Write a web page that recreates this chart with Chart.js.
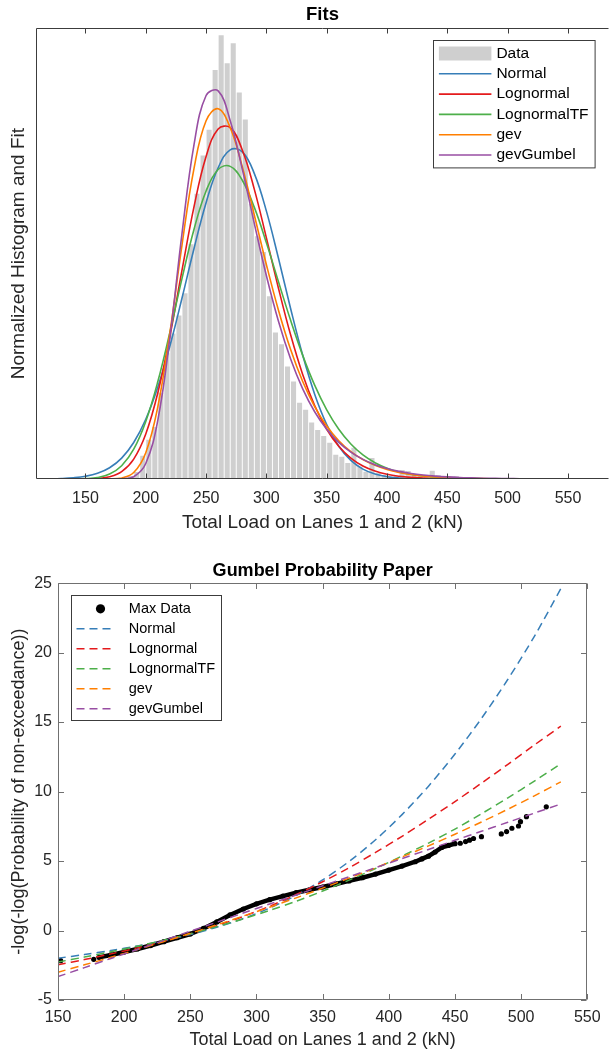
<!DOCTYPE html>
<html>
<head>
<meta charset="utf-8">
<title>Fits</title>
<script src="https://cdn.jsdelivr.net/npm/chart.js@4.4.1/dist/chart.umd.min.js"></script>
<style>
  html, body { margin: 0; padding: 0; background: #fff; overflow: hidden; }
  #wrap { position: relative; width: 609px; height: 1052px; }
  canvas { position: absolute; left: 0; }
  #fits { top: 0; }
  #gumbel { top: 540px; }
</style>
</head>
<body>
<div id="wrap">
  <canvas id="fits" width="609" height="540"></canvas>
  <canvas id="gumbel" width="609" height="512"></canvas>
</div>
<script>
// ---- histogram of total load, 5 kN bins (density, x1e-3 per kN) ----
const binCenters = [182.5, 187.5, 192.5, 197.5, 202.5, 207.5, 212.5, 217.5, 222.5, 227.5,
  232.5, 237.5, 242.5, 247.5, 252.5, 257.5, 262.5, 267.5, 272.5, 277.5,
  282.5, 287.5, 292.5, 297.5, 302.5, 307.5, 312.5, 317.5, 322.5, 327.5,
  332.5, 337.5, 342.5, 347.5, 352.5, 357.5, 362.5, 367.5, 372.5, 377.5,
  382.5, 387.5, 392.5, 397.5, 402.5, 407.5, 412.5, 417.5, 422.5, 427.5,
  432.5, 437.5, 442.5, 447.5, 452.5, 457.5, 462.5, 467.5];
const binDensity = [0.03, 0.09, 0.21, 0.70, 1.18, 1.57, 2.60, 3.81, 4.39, 4.93,
  5.60, 7.08, 8.60, 9.75, 10.53, 12.33, 13.38, 12.53, 13.14, 11.65,
  10.84, 8.29, 7.32, 6.84, 5.51, 4.42, 4.06, 3.39, 2.94, 2.30,
  2.09, 1.70, 1.48, 1.30, 1.09, 0.73, 0.67, 0.48, 0.94, 0.37,
  0.22, 0.63, 0.18, 0.12, 0.09, 0.09, 0.27, 0.24, 0.12, 0.09,
  0.12, 0.25, 0.12, 0.06, 0.06, 0.08, 0.06, 0.03];

// fitted densities, sampled every 10 kN
const fitX = [110, 120, 130, 140, 150, 160, 170, 180, 190, 200, 210, 220, 230, 240, 250, 260,
  270, 280, 290, 300, 310, 320, 330, 340, 350, 360, 370, 380, 390, 400, 410, 420,
  430, 440, 450, 460, 470, 480, 490, 500, 510, 520, 530, 540, 550, 560, 570, 580];
const normalPdf = [0.002, 0.006, 0.015, 0.037, 0.082, 0.172, 0.340, 0.630, 1.100, 1.802, 2.773, 4.010, 5.447, 6.950, 8.331, 9.382,
  9.924, 9.862, 9.207, 8.075, 6.653, 5.149, 3.743, 2.557, 1.641, 0.989, 0.560, 0.298, 0.149, 0.070, 0.031, 0.013,
  0.005, 0.002, 0.001, 0, 0, 0, 0, 0, 0, 0, 0, 0, 0, 0, 0, 0];
const lognormalPdf = [0, 0, 0, 0.0003, 0.0025, 0.015, 0.065, 0.221, 0.601, 1.358, 2.600, 4.304, 6.287, 8.210, 9.725, 10.55,
  10.59, 9.917, 8.730, 7.266, 5.752, 4.354, 3.161, 2.215, 1.499, 0.984, 0.629, 0.391, 0.239, 0.142, 0.083, 0.048,
  0.027, 0.015, 0.008, 0.005, 0.002, 0.001, 0.001, 0, 0, 0, 0, 0, 0, 0, 0, 0];
const lognormalTfPdf = [0, 0, 0.0002, 0.002, 0.011, 0.045, 0.149, 0.400, 0.899, 1.735, 2.937, 4.429, 6.042, 7.530, 8.682, 9.331,
  9.425, 9.006, 8.188, 7.119, 5.946, 4.791, 3.735, 2.828, 2.084, 1.498, 1.054, 0.726, 0.492, 0.327, 0.214, 0.139,
  0.089, 0.056, 0.035, 0.022, 0.013, 0.008, 0.005, 0.003, 0.002, 0.001, 0.001, 0, 0, 0, 0, 0];
const gevPdf = [0, 0, 0, 0, 0, 0, 0.002, 0.029, 0.195, 0.794, 2.181, 4.412, 7.046, 9.365, 10.80, 11.16,
  10.59, 9.414, 7.953, 6.461, 5.088, 3.909, 2.946, 2.184, 1.598, 1.155, 0.827, 0.586, 0.412, 0.287, 0.198, 0.136,
  0.093, 0.063, 0.042, 0.028, 0.018, 0.012, 0.008, 0.005, 0.003, 0.002, 0.001, 0.001, 0, 0, 0, 0];
const gumbelPdf = [0, 0, 0, 0, 0, 0, 0.0001, 0.004, 0.067, 0.469, 1.776, 4.266, 7.391, 10.08, 11.56, 11.70,
  10.80, 9.343, 7.699, 6.128, 4.756, 3.625, 2.725, 2.028, 1.500, 1.104, 0.809, 0.591, 0.431, 0.314, 0.229, 0.166,
  0.121, 0.088, 0.064, 0.046, 0.034, 0.024, 0.018, 0.013, 0.009, 0.007, 0.005, 0.004, 0.003, 0.002, 0.001, 0.001];
const loadTicks = [150, 200, 250, 300, 350, 400, 450, 500, 550];

// ---- Gumbel probability paper: -log(-log(F)) of each fit ----
const paperX = [150, 170, 190, 210, 230, 250, 270, 290, 310, 330, 350, 370, 390, 410, 430, 450, 470, 490, 510, 530];
const normalG = [-1.99, -1.73, -1.44, -1.11, -0.73, -0.29, 0.24, 0.86, 1.62, 2.53, 3.64, 4.97, 6.53, 8.34, 10.39, 12.70, 15.26, 18.08, 21.17, 24.6];
const lognormalG = [-2.47, -2.09, -1.68, -1.25, -0.77, -0.24, 0.35, 1.01, 1.75, 2.59, 3.51, 4.52, 5.62, 6.78, 8.01, 9.28, 10.60, 11.96, 13.35, 14.7];
const lognormalTfG = [-2.27, -1.91, -1.53, -1.13, -0.69, -0.23, 0.28, 0.84, 1.45, 2.11, 2.84, 3.63, 4.46, 5.36, 6.29, 7.30, 8.40, 9.55, 10.75, 12.0];
const gevG = [-3.00, -2.47, -1.93, -1.37, -0.80, -0.20, 0.41, 1.04, 1.68, 2.35, 3.05, 3.77, 4.51, 5.29, 6.09, 6.93, 7.81, 8.73, 9.69, 10.70];
const gumbelG = [-3.32, -2.67, -2.01, -1.36, -0.71, -0.05, 0.60, 1.26, 1.91, 2.56, 3.22, 3.87, 4.52, 5.18, 5.83, 6.49, 7.14, 7.79, 8.45, 9.10];
const maxDataX = [152, 177, 181, 190, 200, 210, 220, 230, 240, 250, 260, 270, 280, 290, 300, 310, 320, 330, 340, 350,
  360, 370, 380, 390, 400, 410, 420, 425, 430, 435, 440, 445, 450, 454, 458, 461, 464, 470, 485, 489,
  493, 498, 499.5, 504, 519];
const maxDataY = [-2.17, -2.07, -1.93, -1.76, -1.55, -1.33, -1.08, -0.80, -0.52, -0.25, 0.15, 0.62, 1.12, 1.55, 1.92, 2.22, 2.48, 2.72, 2.93, 3.13,
  3.35, 3.57, 3.80, 4.06, 4.35, 4.64, 4.95, 5.15, 5.35, 5.65, 5.98, 6.12, 6.25, 6.28, 6.40, 6.50, 6.62, 6.75, 6.95, 7.12,
  7.36, 7.52, 7.83, 8.19, 8.90];
const paperXTicks = [150, 200, 250, 300, 350, 400, 450, 500, 550];
const paperYTicks = [-5, 0, 5, 10, 15, 20, 25];

const fitNames = ['Normal', 'Lognormal', 'LognormalTF', 'gev', 'gevGumbel'];
const fitColors = ['#377eb8', '#e41a1c', '#4daf4a', '#ff7f00', '#984ea3'];

Chart.defaults.font.family = '"Liberation Sans", Arial, Helvetica, sans-serif';
Chart.defaults.color = '#262626';

const pts = (xs, ys) => xs.map((x, i) => ({ x, y: ys[i] }));

// axes box with inward tick marks
const frame = {
  id: 'frame',
  afterDatasetsDraw(chart, args, opts) {
    const { ctx, chartArea: a, scales: { x, y } } = chart;
    const L = Math.round(a.left) + 0.5;
    const R = Math.round(a.right) - 0.5;
    const T = Math.round(a.top) + 0.5;
    const B = Math.round(a.bottom) - 0.5;
    ctx.save();
    ctx.strokeStyle = opts.color;
    ctx.lineWidth = 1;
    ctx.beginPath();
    ctx.moveTo(R, T); ctx.lineTo(L, T); ctx.lineTo(L, B); ctx.lineTo(R, B);
    if (opts.right) ctx.lineTo(R, T);
    for (const t of x.ticks) {
      const p = Math.round(x.getPixelForValue(t.value)) + 0.5;
      ctx.moveTo(p, B); ctx.lineTo(p, B - opts.tick);
      ctx.moveTo(p, T); ctx.lineTo(p, T + opts.tick);
    }
    if (opts.yTicks) {
      for (const t of y.ticks) {
        const p = Math.round(y.getPixelForValue(t.value)) + 0.5;
        ctx.moveTo(L, p); ctx.lineTo(L + opts.tick, p);
        ctx.moveTo(R, p); ctx.lineTo(R - opts.tick, p);
      }
    }
    ctx.stroke();
    ctx.restore();
  }
};

// boxed legend placed inside the plot area
const boxLegend = {
  id: 'boxLegend',
  afterDraw(chart, args, o) {
    const { ctx, chartArea: a } = chart;
    const bx = Math.round(a.left + o.left) + 0.5;
    const by = Math.round(a.top + o.top) + 0.5;
    ctx.save();
    ctx.fillStyle = '#fff';
    ctx.fillRect(bx, by, o.width, o.height);
    ctx.strokeStyle = o.border;
    ctx.lineWidth = 1;
    ctx.strokeRect(bx, by, o.width, o.height);
    ctx.font = o.labelFont;
    ctx.textBaseline = 'middle';
    ctx.textAlign = 'left';
    chart.data.datasets.forEach((ds, i) => {
      const cy = by + o.first + i * o.step;
      const x0 = bx + o.sampleFrom;
      const x1 = bx + o.sampleTo;
      if (ds.type === 'bar') {
        ctx.fillStyle = ds.backgroundColor;
        ctx.fillRect(x0, cy - o.patch / 2, x1 - x0, o.patch);
      } else if (ds.type === 'scatter') {
        ctx.fillStyle = ds.backgroundColor;
        ctx.beginPath();
        ctx.arc(bx + o.dotX, cy, o.dotR, 0, Math.PI * 2);
        ctx.fill();
      } else {
        ctx.strokeStyle = ds.borderColor;
        ctx.lineWidth = ds.borderWidth;
        ctx.setLineDash(ds.borderDash || []);
        ctx.beginPath();
        ctx.moveTo(x0, cy);
        ctx.lineTo(x1, cy);
        ctx.stroke();
        ctx.setLineDash([]);
      }
      ctx.fillStyle = '#000';
      ctx.fillText(ds.label, bx + o.text, cy);
    });
    ctx.restore();
  }
};

const topFits = [normalPdf, lognormalPdf, lognormalTfPdf, gevPdf, gumbelPdf];
const paperFits = [normalG, lognormalG, lognormalTfG, gevG, gumbelG];

new Chart(document.getElementById('fits'), {
  type: 'line',
  data: {
    datasets: [
      {
        type: 'bar',
        label: 'Data',
        data: pts(binCenters, binDensity),
        backgroundColor: '#cfcfcf',
        barPercentage: 0.84,
        categoryPercentage: 1,
        order: 6
      },
      ...fitNames.map((name, i) => ({
        label: name,
        data: pts(fitX, topFits[i]),
        borderColor: fitColors[i],
        borderWidth: 1.6,
        pointRadius: 0,
        tension: 0.4,
        order: 5 - i
      }))
    ]
  },
  options: {
    responsive: false,
    animation: false,
    events: [],
    layout: { padding: 0 },
    plugins: {
      legend: { display: false },
      tooltip: { enabled: false },
      title: {
        display: true, text: 'Fits', color: '#000', fullSize: false,
        font: { size: 18.5, weight: 'bold' }, padding: { top: 4, bottom: 2 }
      },
      frame: { color: '#3c3c3c', tick: 5, yTicks: false, right: false },
      boxLegend: {
        left: 397.4, top: 11.3, width: 161.6, height: 127.4, first: 13, step: 20.3,
        sampleFrom: 5.4, sampleTo: 57.9, text: 62.9, patch: 14, border: '#3c3c3c',
        labelFont: '15.5px "Liberation Sans", Arial, sans-serif'
      }
    },
    scales: {
      x: {
        type: 'linear', min: 109, max: 584, offset: false,
        grid: { display: false, drawTicks: false }, border: { display: false },
        afterBuildTicks: s => { s.ticks = loadTicks.map(v => ({ value: v })); },
        afterFit: s => { s.height = 61; },
        ticks: { font: { size: 16 }, padding: 10.4, maxRotation: 0, autoSkip: false },
        title: { display: true, text: 'Total Load on Lanes 1 and 2 (kN)', font: { size: 19 }, padding: { top: 0, bottom: 6.3 } }
      },
      y: {
        min: 0, max: 13.59,
        grid: { display: false, drawTicks: false }, border: { display: false },
        ticks: { display: false },
        afterFit: s => { s.width = 36; },
        title: { display: true, text: 'Normalized Histogram and Fit', font: { size: 19 }, padding: { top: 7.6, bottom: 0 } }
      }
    }
  },
  plugins: [frame, boxLegend]
});

new Chart(document.getElementById('gumbel'), {
  type: 'line',
  data: {
    datasets: [
      {
        type: 'scatter',
        label: 'Max Data',
        data: pts(maxDataX, maxDataY),
        showLine: true,
        borderColor: '#000',
        backgroundColor: '#000',
        borderWidth: 4.5,
        borderCapStyle: 'round',
        borderJoinStyle: 'round',
        pointRadius: 2.6,
        pointBorderWidth: 0,
        // the dense part of the sample reads as a solid band
        segment: {
          borderColor: c => (c.p0.parsed.x >= 180 && c.p1.parsed.x <= 450) ? '#000' : 'rgba(0,0,0,0)'
        },
        order: 6
      },
      ...fitNames.map((name, i) => ({
        label: name,
        data: pts(paperX, paperFits[i]),
        borderColor: fitColors[i],
        borderWidth: 1.5,
        borderDash: [8, 5],
        pointRadius: 0,
        tension: 0.3,
        order: 5 - i
      }))
    ]
  },
  options: {
    responsive: false,
    animation: false,
    events: [],
    layout: { padding: { right: 21.7 } },
    plugins: {
      legend: { display: false },
      tooltip: { enabled: false },
      title: {
        display: true, text: 'Gumbel Probability Paper', color: '#000', fullSize: false,
        font: { size: 18, weight: 'bold' }, padding: { top: 20.5, bottom: 1 }
      },
      frame: { color: '#707070', tick: 5.5, yTicks: true, right: true },
      boxLegend: {
        left: 13, top: 12, width: 150, height: 125, first: 13.3, step: 20,
        sampleFrom: 5, sampleTo: 44, dotX: 29, dotR: 4.6, text: 57.3, border: '#3c3c3c',
        labelFont: '14.5px "Liberation Sans", Arial, sans-serif'
      }
    },
    scales: {
      x: {
        type: 'linear', min: 150, max: 550, offset: false,
        grid: { display: false, drawTicks: false }, border: { display: false },
        afterBuildTicks: s => { s.ticks = paperXTicks.map(v => ({ value: v })); },
        afterFit: s => { s.height = 52; },
        ticks: { font: { size: 16 }, padding: 7.9, maxRotation: 0, autoSkip: false },
        title: { display: true, text: 'Total Load on Lanes 1 and 2 (kN)', font: { size: 18 }, padding: { top: 0, bottom: 1.2 } }
      },
      y: {
        min: -5, max: 25,
        grid: { display: false, drawTicks: false }, border: { display: false },
        afterBuildTicks: s => { s.ticks = paperYTicks.map(v => ({ value: v })); },
        afterFit: s => { s.width = 58; },
        ticks: { font: { size: 16 }, padding: 6, autoSkip: false },
        title: { display: true, text: '-log(-log(Probability of non-exceedance))', font: { size: 18 }, padding: { top: 8.7, bottom: 0 } }
      }
    }
  },
  plugins: [frame, boxLegend]
});
</script>
</body>
</html>
